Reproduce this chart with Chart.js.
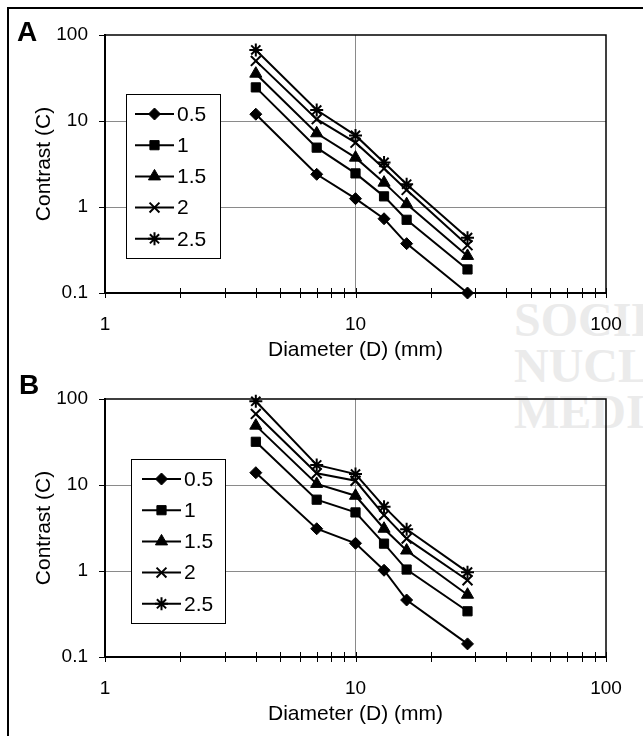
<!DOCTYPE html>
<html>
<head>
<meta charset="utf-8">
<script src="https://cdn.jsdelivr.net/npm/chart.js@4.4.0/dist/chart.umd.min.js"></script>
<style>
  body { margin: 0; background: #fff; }
  #page { position: relative; width: 643px; height: 736px; overflow: hidden; background: #fff; }
  #frame { position: absolute; left: 7px; top: 7px; width: 700px; height: 800px;
           border-left: 2px solid #000; border-top: 2px solid #000; }
  .wm { position: absolute; left: 514px; font: bold 48px "Liberation Serif", serif;
        color: #ebebeb; white-space: nowrap; }
  .panel { position: absolute; left: 0; width: 643px; height: 368px; }
  .letter { position: absolute; font: bold 28px "Liberation Sans", Arial, sans-serif; line-height: 1; }
</style>
</head>
<body>
<div id="page">
  <div id="frame"></div>
  <div class="wm" style="top:292px">SOCIETY OF</div>
  <div class="wm" style="top:338px">NUCLEAR</div>
  <div class="wm" style="top:384px">MEDICINE</div>
  <div class="panel" style="top:0"><canvas id="chartA" width="643" height="368"></canvas></div>
  <div class="panel" style="top:364px"><canvas id="chartB" width="643" height="368"></canvas></div>
  <div class="letter" style="left:17px;top:18px">A</div>
  <div class="letter" style="left:19px;top:371px">B</div>
</div>
<script>
// lesion diameter (mm)
const diameters = [4, 7, 10, 13, 16, 28];
const seriesLabels = ['0.5', '1', '1.5', '2', '2.5'];
const pointStyles = ['rectRot', 'rect', 'triangle', 'crossRot', 'star'];
const pointSizes = [6, 6.5, 7, 7, 6.5];

// panel A
const contrastA05 = [12, 2.4, 1.25, 0.73, 0.375, 0.10];
const contrastA1 = [24.6, 4.9, 2.46, 1.33, 0.71, 0.188];
const contrastA15 = [35.5, 7.2, 3.75, 1.92, 1.08, 0.27];
const contrastA2 = [50, 10.5, 5.6, 2.8, 1.58, 0.36];
const contrastA25 = [67, 13.4, 6.8, 3.3, 1.84, 0.44];

// panel B
const contrastB05 = [13.9, 3.1, 2.1, 1.02, 0.46, 0.142];
const contrastB1 = [31.8, 6.75, 4.8, 2.08, 1.04, 0.34];
const contrastB15 = [49, 10.3, 7.5, 3.1, 1.73, 0.53];
const contrastB2 = [67, 13.7, 11.2, 4.47, 2.38, 0.78];
const contrastB25 = [94, 17.1, 13.4, 5.6, 3.06, 0.97];

const xTickValues = [1, 2, 3, 4, 5, 6, 7, 8, 9, 10, 20, 30, 40, 50, 60, 70, 80, 90, 100];
const xLabelValues = [1, 10, 100];
const yTickValues = [0.1, 1, 10, 100];

const FONT = '"Liberation Sans", Arial, Helvetica, sans-serif';
const GRID = '#8a8a8a';

// plot frame, crossing x tick marks and the boxed legend
const framePlugin = {
    id: 'frame',
    beforeDatasetsDraw(chart) {
        const {ctx, chartArea: a} = chart;
        const x = chart.scales.x;
        ctx.save();
        ctx.strokeStyle = '#000';
        ctx.lineWidth = 1.5;
        ctx.strokeRect(a.left, a.top, a.right - a.left, a.bottom - a.top);
        ctx.lineWidth = 1;
        for (let t of x.ticks) {
            const px = Math.round(x.getPixelForValue(t.value)) + 0.5;
            ctx.beginPath();
            ctx.moveTo(px, a.bottom - 5);
            ctx.lineTo(px, a.bottom + 5);
            ctx.stroke();
        }
        ctx.restore();
    },
    afterDraw(chart, args, opts) {
        const ctx = chart.ctx;
        const left = opts.left, top = opts.top;
        ctx.save();
        ctx.fillStyle = '#fff';
        ctx.fillRect(left, top, 94, 164);
        ctx.strokeStyle = '#000';
        ctx.lineWidth = 1;
        ctx.strokeRect(left + 0.5, top + 0.5, 94, 164);
        ctx.font = '21px ' + FONT;
        ctx.textBaseline = 'middle';
        chart.data.datasets.forEach((ds, i) => {
            const y = top + 20 + i * 31.2;
            ctx.strokeStyle = '#000';
            ctx.lineWidth = 2;
            ctx.beginPath();
            ctx.moveTo(left + opts.lineStart, y);
            ctx.lineTo(left + opts.lineStart + 39, y);
            ctx.stroke();
            ctx.fillStyle = '#000';
            ctx.lineWidth = ds.pointBorderWidth;
            Chart.helpers.drawPoint(ctx, {
                pointStyle: ds.pointStyle, radius: ds.pointRadius, rotation: 0, borderWidth: ds.pointBorderWidth
            }, left + opts.lineStart + 19.5, y);
            ctx.fillStyle = '#000';
            ctx.fillText(ds.label, left + opts.lineStart + 42, y + 1);
        });
        ctx.restore();
    }
};

function makeChart(canvasId, series, legendLeft, legendTop, lineStart) {
    const datasets = series.map((values, i) => ({
        label: seriesLabels[i],
        data: diameters.map((d, j) => ({x: d, y: values[j]})),
        borderColor: '#000',
        backgroundColor: '#000',
        borderWidth: 2,
        pointStyle: pointStyles[i],
        pointRadius: pointSizes[i],
        pointBorderWidth: i >= 3 ? 2 : 1,
        pointBackgroundColor: '#000',
        pointBorderColor: '#000',
        tension: 0,
        clip: false
    }));

    return new Chart(document.getElementById(canvasId), {
        type: 'line',
        data: {datasets: datasets},
        plugins: [framePlugin],
        options: {
            responsive: false,
            animation: false,
            layout: {padding: {top: 35, left: 0, right: 37, bottom: 3}},
            plugins: {
                legend: {display: false},
                tooltip: {enabled: false},
                frame: {left: legendLeft, top: legendTop, lineStart: lineStart}
            },
            scales: {
                x: {
                    type: 'logarithmic',
                    min: 1,
                    max: 100,
                    afterBuildTicks: scale => {
                        scale.ticks = xTickValues.map(v => ({value: v}));
                    },
                    afterFit: scale => { scale.height = 72; },
                    ticks: {
                        autoSkip: false,
                        maxRotation: 0,
                        padding: 20,
                        color: '#000',
                        font: {family: FONT, size: 19},
                        callback: v => xLabelValues.includes(v) ? String(v) : ''
                    },
                    grid: {
                        drawTicks: false,
                        color: c => (c.tick && c.tick.value === 10) ? GRID : 'transparent',
                        lineWidth: 1
                    },
                    border: {color: '#000', width: 2},
                    title: {
                        display: true,
                        text: 'Diameter (D) (mm)',
                        color: '#000',
                        font: {family: FONT, size: 21},
                        padding: {top: 0, bottom: 2}
                    }
                },
                y: {
                    type: 'logarithmic',
                    min: 0.1,
                    max: 100,
                    afterBuildTicks: scale => {
                        scale.ticks = yTickValues.map(v => ({value: v}));
                    },
                    afterFit: scale => { scale.width = 105; },
                    ticks: {
                        padding: 11,
                        color: '#000',
                        font: {family: FONT, size: 19},
                        callback: v => String(v)
                    },
                    grid: {
                        tickLength: 6,
                        tickColor: '#000',
                        color: c => (c.tick && (c.tick.value === 1 || c.tick.value === 10)) ? GRID : 'transparent',
                        lineWidth: 1
                    },
                    border: {color: '#000', width: 2},
                    title: {
                        display: true,
                        text: 'Contrast (C)',
                        color: '#000',
                        font: {family: FONT, size: 21},
                        padding: {top: 32, bottom: 0}
                    }
                }
            }
        }
    });
}

makeChart('chartA', [contrastA05, contrastA1, contrastA15, contrastA2, contrastA25], 126, 94, 9);
makeChart('chartB', [contrastB05, contrastB1, contrastB15, contrastB2, contrastB25], 131, 95, 11);
</script>
</body>
</html>
